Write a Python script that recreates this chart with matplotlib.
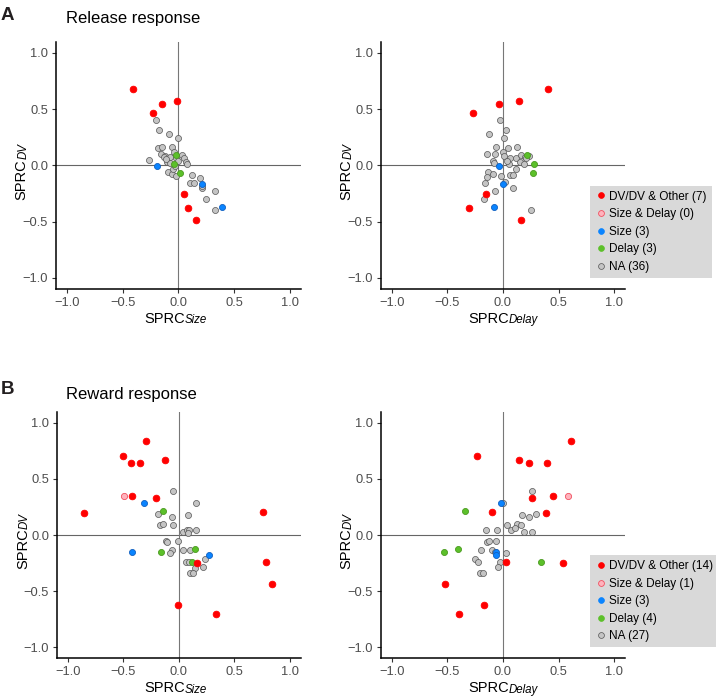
import matplotlib.pyplot as plt
from matplotlib.lines import Line2D

plt.rcParams['font.family'] = ['Liberation Sans', 'DejaVu Sans']

# ---- Release response (A) ----
rel_dv_size = [-0.407, -0.227, -0.143, -0.012, 0.051, 0.087, 0.161]
rel_dv_delay = [0.408, -0.271, -0.034, 0.145, -0.151, -0.303, 0.163]
rel_dv_dv = [0.678, 0.468, 0.548, 0.575, -0.258, -0.380, -0.483]

rel_s_size = [-0.188, 0.215, 0.395]
rel_s_delay = [-0.034, 0.001, -0.082]
rel_s_dv = [-0.007, -0.167, -0.371]

rel_d_size = [-0.024, -0.039, 0.015]
rel_d_delay = [0.220, 0.283, 0.268]
rel_d_dv = [0.096, 0.016, -0.064]

rel_na_size_x = [-0.197, -0.176, -0.087, -0.003, -0.185, -0.149, -0.057, -0.263, -0.152,
                 -0.122, -0.072, -0.036, 0.036, 0.048, 0.069, 0.081, -0.102, -0.093,
                 -0.054, -0.024, -0.048, -0.078, 0.120, 0.105, 0.138, 0.194, 0.215,
                 0.251, 0.329, 0.329, 0.215, -0.126, -0.018, -0.027, -0.005, -0.110]
rel_na_size_y = [0.400, 0.318, 0.282, 0.247, 0.158, 0.161, 0.167, 0.043, 0.102,
                 0.087, 0.072, 0.123, 0.093, 0.064, 0.028, 0.016, 0.028, -0.058,
                 -0.078, -0.099, -0.034, 0.022, -0.090, -0.155, -0.161, -0.111, -0.205,
                 -0.300, -0.226, -0.394, -0.188, 0.078, 0.064, -0.010, 0.040, 0.060]
rel_na_delay_x = [-0.025, 0.025, -0.124, 0.013, -0.061, 0.046, 0.130, -0.142, -0.070,
                  0.001, 0.013, 0.061, 0.115, 0.166, 0.199, 0.235, 0.205, 0.151,
                  0.187, -0.088, -0.082, 0.055, 0.121, -0.133, -0.088, -0.148, -0.016,
                  0.067, 0.091, -0.166, 0.022, 0.094, -0.076, -0.169, 0.253, 0.040]
rel_na_delay_y = [0.403, 0.318, 0.282, 0.244, 0.167, 0.158, 0.164, 0.102, 0.102,
                  0.120, 0.084, 0.069, 0.061, 0.093, 0.078, 0.084, 0.064, 0.028,
                  0.010, 0.040, 0.019, 0.013, -0.031, -0.055, -0.075, -0.108, -0.099,
                  -0.090, -0.090, -0.158, -0.152, -0.199, -0.226, -0.297, -0.394, 0.035]

# ---- Reward response (B) ----
rew_dv_size = [-0.295, -0.502, -0.127, -0.346, -0.430, -0.418, -0.202,
               0.757, -0.856, 0.781, 0.160, 0.838, -0.007, 0.331]
rew_dv_delay = [0.613, -0.238, 0.145, 0.238, 0.394, 0.448, 0.262,
                -0.100, 0.391, 0.025, 0.541, -0.523, -0.175, -0.397]
rew_dv_dv = [0.843, 0.709, 0.671, 0.644, 0.641, 0.347, 0.329,
             0.208, 0.193, -0.240, -0.246, -0.433, -0.623, -0.703]

rew_sd_size = [-0.496]
rew_sd_delay = [0.589]
rew_sd_dv = [0.347]

rew_s_size = [-0.313, -0.421, 0.268]
rew_s_delay = [-0.019, -0.064, -0.064]
rew_s_dv = [0.288, -0.154, -0.181]

rew_d_size = [-0.142, -0.157, 0.145, 0.115]
rew_d_delay = [-0.340, -0.529, -0.406, 0.340]
rew_d_dv = [0.217, -0.151, -0.122, -0.243]

rew_na_size_x = [-0.055, 0.157, -0.184, -0.061, 0.079, -0.169, -0.142, -0.055, 0.034,
                 0.076, 0.094, 0.157, 0.079, -0.115, -0.109, -0.007, -0.064, -0.079,
                 0.034, 0.097, 0.064, 0.091, 0.232, 0.148, 0.220, 0.103, 0.124]
rew_na_size_y = [0.392, 0.288, 0.187, 0.163, 0.175, 0.089, 0.101, 0.092, 0.030,
                 0.045, 0.045, 0.042, 0.021, -0.053, -0.062, -0.053, -0.134, -0.160,
                 -0.131, -0.131, -0.240, -0.243, -0.214, -0.294, -0.288, -0.335, -0.341]
rew_na_delay_x = [0.259, -0.004, 0.172, 0.232, 0.298, 0.037, 0.127, 0.160, 0.073,
                  0.193, 0.265, -0.151, -0.052, -0.148, -0.124, -0.064, -0.097, -0.202,
                  0.031, -0.250, -0.226, -0.028, -0.049, -0.205, -0.178, -0.070, 0.110]
rew_na_delay_y = [0.392, 0.285, 0.175, 0.163, 0.190, 0.092, 0.101, 0.086, 0.042,
                  0.030, 0.024, 0.045, 0.048, -0.059, -0.053, -0.053, -0.134, -0.131,
                  -0.160, -0.214, -0.243, -0.240, -0.288, -0.335, -0.335, -0.150, 0.060]

ticks = [-1.0, -0.5, 0.0, 0.5, 1.0]
tick_labels = ['\u22121.0', '\u22120.5', '0.0', '0.5', '1.0']

RED = '#ff0000'
PINK_FACE = '#ffb3bd'
PINK_EDGE = '#f05060'
BLUE = '#0a84ff'
GREEN = '#5cc02a'
GREY = '#c4c4c4'

fig = plt.figure(figsize=(7.16, 6.97), dpi=100)


def sub_label(ax, main, sub, axis):
    # main text + italic subscript, drawn as two pieces
    if axis == 'x':
        kw = dict(xycoords='axes fraction', textcoords='offset points', va='baseline')
        ax.annotate(main, (0.5, 0), xytext=(4.5, -24.3), ha='right', fontsize=10.5, **kw)
        ax.annotate(sub, (0.5, 0), xytext=(4.3, -24.8), ha='left', fontsize=8.3,
                    style='italic', **kw)
    else:
        kw = dict(xycoords='axes fraction', textcoords='offset points', va='baseline',
                  rotation=90, rotation_mode='anchor')
        ax.annotate(main, (0, 0.5), xytext=(-21.5, 4.5), ha='right', fontsize=10.5, **kw)
        ax.annotate(sub, (0, 0.5), xytext=(-21.0, 4.3), ha='left', fontsize=8.3,
                    style='italic', **kw)


def style_axis(ax, xsub):
    ax.set_xlim(-1.1, 1.1)
    ax.set_ylim(-1.1, 1.1)
    ax.axhline(0, color='#666666', lw=0.8, zorder=1)
    ax.axvline(0, color='#777777', lw=0.8, zorder=1)
    ax.set_xticks(ticks)
    ax.set_xticklabels(tick_labels)
    ax.set_yticks(ticks)
    ax.set_yticklabels(tick_labels)
    ax.tick_params(labelsize=9.3, labelcolor='#4d4d4d', color='#333333',
                   length=3, width=0.8, pad=2.5)
    for s in ['top', 'right']:
        ax.spines[s].set_visible(False)
    for s in ['left', 'bottom']:
        ax.spines[s].set_linewidth(1.1)
    sub_label(ax, 'SPRC', xsub, 'x')
    sub_label(ax, 'SPRC', 'DV', 'y')


def draw(ax, groups, na_x, na_y):
    ax.scatter(na_x, na_y, s=19, c=GREY, edgecolors='#555555', linewidths=0.5, zorder=3)
    for (x, y, face, edge, size) in groups:
        ax.scatter(x, y, s=size, c=face, edgecolors=edge, linewidths=0.6, zorder=4)


def add_legend(ax, counts):
    handles = [
        Line2D([], [], ls='', marker='o', ms=4.2, mfc=RED, mec=RED, mew=0.5),
        Line2D([], [], ls='', marker='o', ms=4.2, mfc=PINK_FACE, mec=PINK_EDGE, mew=0.6),
        Line2D([], [], ls='', marker='o', ms=4.2, mfc=BLUE, mec=BLUE, mew=0.5),
        Line2D([], [], ls='', marker='o', ms=4.2, mfc=GREEN, mec=GREEN, mew=0.5),
        Line2D([], [], ls='', marker='o', ms=4.2, mfc=GREY, mec='#555555', mew=0.5),
    ]
    labels = ['DV/DV & Other (%d)' % counts[0], 'Size & Delay (%d)' % counts[1],
              'Size (%d)' % counts[2], 'Delay (%d)' % counts[3], 'NA (%d)' % counts[4]]
    leg = ax.legend(handles, labels, loc='upper left', bbox_to_anchor=(0.856, 0.418),
                    fontsize=8.5, frameon=True, fancybox=False, facecolor='#d9d9d9',
                    edgecolor='none', framealpha=1, handlelength=0.95, handletextpad=0.25,
                    labelspacing=0.47, borderpad=0.42, borderaxespad=0)
    leg.get_frame().set_linewidth(0)
    leg.set_zorder(10)


# Panel A
axA1 = fig.add_axes([0.0778, 0.5854, 0.3426, 0.3548])
axA2 = fig.add_axes([0.5317, 0.5854, 0.3416, 0.3548])
draw(axA1, [(rel_s_size, rel_s_dv, BLUE, '#1060c0', 19), (rel_d_size, rel_d_dv, GREEN, '#4a9a20', 19),
            (rel_dv_size, rel_dv_dv, RED, RED, 23)], rel_na_size_x, rel_na_size_y)
draw(axA2, [(rel_s_delay, rel_s_dv, BLUE, '#1060c0', 19), (rel_d_delay, rel_d_dv, GREEN, '#4a9a20', 19),
            (rel_dv_delay, rel_dv_dv, RED, RED, 23)], rel_na_delay_x, rel_na_delay_y)
style_axis(axA1, 'Size')
style_axis(axA2, 'Delay')
add_legend(axA2, [len(rel_dv_dv), 0, len(rel_s_dv), len(rel_d_dv), len(rel_na_size_x)])

# Panel B
axB1 = fig.add_axes([0.0792, 0.0555, 0.3412, 0.3538])
axB2 = fig.add_axes([0.5317, 0.0555, 0.3416, 0.3538])
draw(axB1, [(rew_s_size, rew_s_dv, BLUE, '#1060c0', 19), (rew_d_size, rew_d_dv, GREEN, '#4a9a20', 19),
            (rew_dv_size, rew_dv_dv, RED, RED, 23), (rew_sd_size, rew_sd_dv, PINK_FACE, PINK_EDGE, 20)],
     rew_na_size_x, rew_na_size_y)
draw(axB2, [(rew_s_delay, rew_s_dv, BLUE, '#1060c0', 19), (rew_d_delay, rew_d_dv, GREEN, '#4a9a20', 19),
            (rew_dv_delay, rew_dv_dv, RED, RED, 23), (rew_sd_delay, rew_sd_dv, PINK_FACE, PINK_EDGE, 20)],
     rew_na_delay_x, rew_na_delay_y)
style_axis(axB1, 'Size')
style_axis(axB2, 'Delay')
add_legend(axB2, [len(rew_dv_dv), len(rew_sd_dv), len(rew_s_dv), len(rew_d_dv), len(rew_na_size_x)])

# panel letters and titles
fig.text(0.001, 0.9713, 'A', fontsize=13.5, fontweight='bold', color='#231f20', va='baseline')
fig.text(0.0918, 0.9666, 'Release response', fontsize=12, va='baseline')
fig.text(0.001, 0.4343, 'B', fontsize=13.5, fontweight='bold', color='#231f20', va='baseline')
fig.text(0.0918, 0.4271, 'Reward response', fontsize=12, va='baseline')

plt.savefig('out.png', dpi=100, facecolor='white')
